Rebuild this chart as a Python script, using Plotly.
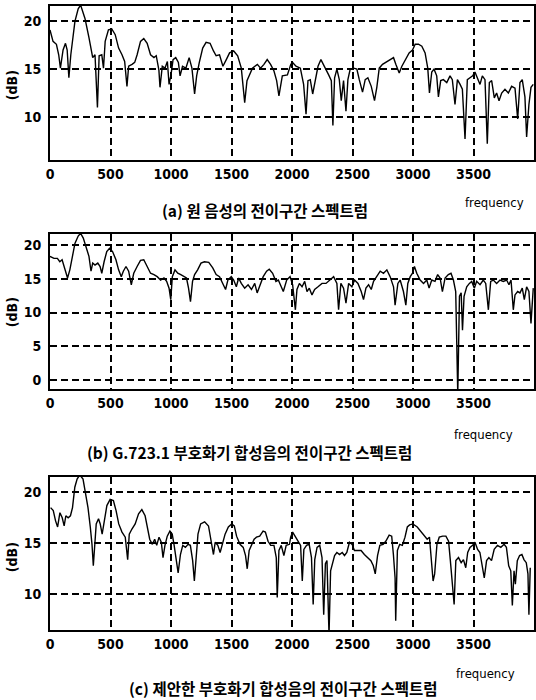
import plotly.graph_objects as go

# ---------------- data ----------------
freq_a = [0, 25, 53, 72, 86, 108, 128, 142, 156, 172, 206, 233, 253, 289, 322, 353, 372, 392, 406, 428,
          442, 456, 483, 511, 539, 567, 595, 617, 636, 650, 678, 700, 720, 748, 775, 803, 831, 859, 878, 900,
          909, 928, 950, 970, 984, 1000, 1017, 1039, 1061, 1075, 1095, 1123, 1150, 1173, 1195, 1212, 1234, 1262, 1290, 1323,
          1351, 1373, 1401, 1429, 1457, 1484, 1518, 1551, 1581, 1609, 1628, 1645, 1673, 1714, 1740, 1768, 1795, 1823, 1851, 1873,
          1892, 1920, 1962, 1990, 2005, 2033, 2069, 2096, 2116, 2132, 2151, 2171, 2193, 2215, 2239, 2270, 2303, 2325, 2338, 2352,
          2371, 2391, 2407, 2426, 2446, 2462, 2481, 2509, 2536, 2556, 2583, 2605, 2627, 2655, 2682, 2701, 2721, 2748, 2784, 2811,
          2839, 2858, 2886, 2908, 2941, 2968, 2996, 3018, 3045, 3073, 3100, 3122, 3136, 3155, 3174, 3196, 3210, 3229, 3251, 3279,
          3306, 3325, 3347, 3367, 3389, 3408, 3430, 3449, 3471, 3493, 3512, 3534, 3554, 3573, 3595, 3614, 3631, 3650, 3672, 3691,
          3711, 3733, 3760, 3788, 3815, 3843, 3865, 3884, 3903, 3925, 3939, 3958, 3975, 3994]
db_a = [19.1, 17.9, 17.6, 16.5, 15.1, 17.0, 17.7, 17.0, 14.1, 16.5, 20.0, 21.3, 21.7, 20.3, 18.3, 16.2, 16.5, 11.0, 16.4, 16.5,
        15.1, 17.9, 19.1, 19.2, 18.6, 17.2, 16.5, 15.8, 13.2, 15.3, 15.5, 15.7, 16.5, 17.9, 18.2, 17.7, 16.5, 16.2, 16.4, 14.9,
        13.1, 15.3, 15.1, 15.8, 13.4, 14.4, 16.0, 16.2, 15.7, 14.3, 15.3, 15.1, 16.2, 15.1, 12.4, 14.3, 15.7, 17.2, 17.8, 17.7,
        16.9, 16.4, 16.5, 15.3, 16.0, 16.7, 16.9, 16.4, 15.1, 11.5, 13.8, 14.3, 15.1, 15.5, 15.1, 15.5, 16.0, 15.5, 14.8, 13.8,
        12.2, 14.3, 14.4, 15.5, 15.7, 15.3, 15.1, 13.4, 10.3, 13.8, 13.9, 12.4, 13.8, 15.3, 16.0, 15.3, 14.4, 13.8, 9.1, 14.1,
        15.0, 13.9, 11.7, 13.8, 10.6, 13.9, 15.0, 15.1, 15.0, 13.9, 12.6, 13.9, 14.1, 13.2, 11.7, 13.1, 15.1, 15.5, 15.8, 16.0,
        16.2, 15.5, 14.6, 15.3, 16.0, 16.7, 17.0, 17.6, 17.6, 17.4, 16.7, 15.1, 12.5, 14.7, 15.0, 14.3, 12.1, 13.8, 13.9, 13.6,
        14.3, 13.9, 11.3, 13.9, 13.4, 12.9, 7.7, 13.9, 14.1, 14.3, 14.7, 13.9, 13.4, 14.3, 13.9, 7.2, 13.6, 13.8, 12.0, 12.5,
        11.7, 12.5, 12.9, 12.5, 13.2, 13.0, 9.8, 13.6, 13.9, 12.1, 7.9, 11.3, 13.1, 13.4]

freq_b = [0, 33, 61, 81, 100, 122, 145, 164, 183, 206, 233, 253, 275, 303, 322, 339, 353, 372, 395, 414,
          428, 447, 469, 492, 517, 545, 567, 589, 606, 628, 650, 672, 692, 720, 748, 775, 803, 831, 859, 886,
          914, 942, 964, 984, 998, 1011, 1033, 1056, 1081, 1109, 1128, 1145, 1161, 1178, 1195, 1220, 1248, 1276, 1312, 1345,
          1373, 1401, 1429, 1451, 1470, 1498, 1518, 1540, 1559, 1581, 1609, 1637, 1665, 1692, 1712, 1734, 1762, 1790, 1812, 1840,
          1867, 1887, 1906, 1928, 1956, 1984, 2005, 2028, 2041, 2061, 2083, 2105, 2124, 2143, 2165, 2187, 2215, 2248, 2281, 2316,
          2344, 2371, 2385, 2404, 2426, 2446, 2468, 2495, 2517, 2545, 2572, 2591, 2611, 2633, 2655, 2674, 2701, 2729, 2756, 2784,
          2811, 2839, 2852, 2875, 2894, 2921, 2941, 2957, 2977, 2996, 3012, 3031, 3059, 3087, 3114, 3133, 3155, 3182, 3204, 3224,
          3243, 3265, 3292, 3314, 3334, 3353, 3370, 3384, 3398, 3409, 3422, 3444, 3466, 3485, 3507, 3526, 3554, 3581, 3601, 3623,
          3642, 3664, 3691, 3719, 3746, 3774, 3793, 3810, 3829, 3843, 3865, 3884, 3903, 3920, 3939, 3958, 3975, 3994]
db_b = [18.3, 18.0, 18.0, 17.5, 17.8, 16.6, 15.1, 16.3, 18.3, 20.2, 21.3, 21.7, 21.0, 19.5, 18.3, 16.1, 17.3, 17.0, 17.3, 16.8,
        15.8, 17.5, 19.0, 19.5, 19.0, 17.8, 16.3, 15.3, 16.1, 16.8, 16.1, 14.1, 15.8, 16.8, 17.7, 17.8, 16.8, 15.8, 15.6, 15.3,
        14.8, 15.1, 14.6, 13.6, 11.9, 15.3, 16.3, 15.8, 15.6, 15.3, 15.1, 13.6, 11.6, 14.6, 15.6, 16.3, 17.3, 17.5, 17.4, 16.6,
        15.6, 15.3, 14.3, 13.4, 14.8, 15.3, 14.8, 13.8, 15.1, 14.3, 13.6, 14.1, 13.4, 14.3, 12.9, 14.1, 15.3, 16.1, 16.4, 15.8,
        14.6, 14.8, 14.1, 13.1, 14.8, 15.3, 14.1, 10.4, 13.4, 14.3, 13.8, 14.6, 13.1, 13.6, 12.6, 13.4, 13.8, 14.3, 14.3, 14.8,
        15.3, 14.3, 10.4, 14.3, 13.6, 11.4, 14.3, 13.8, 14.8, 14.3, 13.1, 11.9, 13.6, 14.1, 13.4, 14.6, 15.3, 16.1, 15.8, 16.3,
        15.3, 13.8, 11.1, 14.3, 14.8, 13.1, 11.1, 14.3, 15.3, 15.8, 16.8, 15.8, 14.8, 14.3, 14.8, 13.6, 14.8, 14.6, 15.6, 15.1,
        13.1, 15.1, 15.6, 15.8, 14.8, 13.1, -2.0, 12.4, 12.9, 7.4, 12.4, 13.8, 14.3, 14.6, 13.6, 14.6, 14.1, 14.8, 14.3, 10.4,
        14.6, 14.8, 14.3, 14.8, 14.6, 14.8, 14.1, 14.8, 10.4, 12.6, 13.1, 12.9, 13.6, 11.9, 13.8, 13.1, 8.4, 13.6]

freq_c = [5, 27, 46, 63, 82, 101, 117, 131, 150, 169, 186, 205, 224, 246, 273, 295, 314, 333, 347, 358,
          369, 382, 401, 415, 431, 450, 470, 497, 524, 546, 568, 595, 622, 642, 655, 677, 704, 732, 759, 786,
          805, 824, 846, 865, 882, 901, 920, 934, 950, 969, 991, 1010, 1026, 1043, 1059, 1078, 1097, 1119, 1141, 1160,
          1179, 1193, 1207, 1223, 1245, 1278, 1310, 1332, 1351, 1365, 1387, 1406, 1425, 1447, 1474, 1502, 1523, 1542, 1570, 1597,
          1616, 1630, 1646, 1665, 1687, 1706, 1733, 1761, 1780, 1802, 1824, 1851, 1870, 1878, 1892, 1911, 1933, 1952, 1979, 1989,
          2005, 2025, 2052, 2071, 2085, 2098, 2120, 2142, 2161, 2175, 2188, 2207, 2229, 2248, 2262, 2276, 2289, 2306, 2319, 2333,
          2352, 2371, 2393, 2415, 2434, 2453, 2475, 2497, 2516, 2543, 2571, 2598, 2625, 2652, 2672, 2688, 2707, 2726, 2753, 2775,
          2803, 2824, 2838, 2852, 2857, 2871, 2890, 2912, 2934, 2953, 2972, 2999, 3035, 3062, 3089, 3117, 3136, 3152, 3166, 3179,
          3198, 3217, 3245, 3272, 3294, 3308, 3321, 3340, 3354, 3376, 3398, 3417, 3436, 3452, 3471, 3493, 3512, 3534, 3553, 3572,
          3589, 3608, 3627, 3649, 3671, 3698, 3726, 3753, 3772, 3791, 3808, 3821, 3835, 3846, 3862, 3881, 3900, 3917, 3936, 3950,
          3958, 3969]
db_c = [18.5, 18.2, 17.2, 16.6, 18.0, 17.5, 16.7, 17.7, 17.5, 17.7, 18.5, 20.5, 21.3, 21.7, 21.3, 19.8, 18.5, 16.6, 14.9, 12.8,
        15.2, 16.9, 17.4, 16.9, 15.9, 17.5, 18.7, 19.3, 19.2, 18.2, 16.9, 16.1, 15.6, 13.4, 15.9, 16.4, 16.9, 17.9, 18.3, 17.7,
        16.6, 15.4, 14.9, 15.4, 14.8, 15.6, 15.1, 13.6, 14.8, 15.7, 16.2, 15.9, 14.8, 13.6, 12.1, 13.9, 14.8, 14.6, 14.9, 14.8,
        13.3, 11.3, 13.6, 15.9, 16.9, 17.1, 16.7, 15.2, 13.9, 15.1, 14.8, 14.1, 14.9, 15.9, 16.6, 16.9, 16.7, 15.7, 14.9, 14.6,
        13.8, 12.5, 14.3, 14.9, 15.4, 15.6, 15.7, 16.2, 16.1, 15.2, 14.8, 14.8, 13.6, 9.7, 14.3, 14.8, 13.8, 14.8, 14.9, 15.6,
        16.1, 15.7, 15.1, 14.8, 11.3, 14.4, 14.8, 14.9, 13.6, 9.0, 13.4, 14.6, 14.8, 13.6, 8.0, 13.0, 13.3, 6.0, 12.3, 13.0,
        13.8, 14.1, 13.9, 14.1, 13.8, 14.1, 15.1, 14.9, 14.3, 14.3, 14.3, 13.9, 13.6, 13.3, 12.8, 12.0, 13.8, 14.8, 14.9, 15.2,
        15.8, 15.7, 13.9, 11.6, 7.4, 14.3, 14.9, 14.8, 15.6, 16.6, 16.8, 16.9, 16.6, 16.2, 15.7, 15.4, 15.6, 13.3, 11.3, 12.0,
        14.9, 15.6, 15.7, 15.7, 15.2, 13.4, 11.3, 9.0, 13.3, 13.6, 13.1, 13.4, 12.6, 14.1, 14.6, 14.8, 15.1, 14.4, 14.1, 12.8,
        11.6, 13.3, 13.6, 13.3, 14.4, 14.8, 14.6, 14.9, 14.6, 12.8, 12.3, 8.9, 12.3, 11.0, 13.3, 13.8, 13.9, 13.4, 13.1, 12.0,
        8.0, 12.6]

x_ticks = [0, 500, 1000, 1500, 2000, 2500, 3000, 3500]
y_ticks_a = [10, 15, 20]
y_ticks_b = [0, 5, 10, 15, 20]
y_ticks_c = [10, 15, 20]
captions = ["(a) 원 음성의 전이구간 스펙트럼",
            "(b) G.723.1 부호화기 합성음의 전이구간 스펙트럼",
            "(c) 제안한 부호화기 합성음의 전이구간 스펙트럼"]
x_label = "frequency"
y_label = "(dB)"

# ---------------- figure ----------------
W, H = 536, 700
ML = 50
PW = W - ML

fig = go.Figure()
line_style = dict(color="black", width=1.4)
fig.add_trace(go.Scatter(x=freq_a, y=db_a, mode="lines", line=line_style, xaxis="x", yaxis="y", showlegend=False))
fig.add_trace(go.Scatter(x=freq_b, y=db_b, mode="lines", line=line_style, xaxis="x2", yaxis="y2", showlegend=False))
fig.add_trace(go.Scatter(x=freq_c, y=db_c, mode="lines", line=line_style, xaxis="x3", yaxis="y3", showlegend=False))

narrow = "DejaVu Sans Condensed, Liberation Sans Narrow, Arial Narrow, sans-serif"
tick_font = dict(family=narrow, size=14, color="black", weight="bold")


def ydom(top_px, bot_px):
    return [1 - bot_px / H, 1 - top_px / H]


common_x = dict(range=[0, 4000], tickvals=x_ticks, ticktext=[str(v) for v in x_ticks],
                showgrid=True, gridcolor="black", griddash="7px,4px", gridwidth=1.6,
                showline=True, linecolor="black", linewidth=2, mirror=True,
                ticks="", tickfont=tick_font, zeroline=False, domain=[0, 1])
common_y = dict(showgrid=True, gridcolor="black", griddash="7px,4px", gridwidth=1.6,
                showline=True, linecolor="black", linewidth=2, mirror=True,
                ticks="", tickfont=tick_font, zeroline=False, ticklabelstandoff=4)

fig.update_layout(
    width=W, height=H,
    margin=dict(l=ML, r=0, t=0, b=0),
    paper_bgcolor="white", plot_bgcolor="white",
    xaxis=dict(**common_x, anchor="y"),
    yaxis=dict(**common_y, range=[5.5, 21.6], tickvals=y_ticks_a, domain=ydom(6, 160), anchor="x"),
    xaxis2=dict(**common_x, anchor="y2"),
    yaxis2=dict(**common_y, range=[-1.3, 21.6], tickvals=y_ticks_b, domain=ydom(234, 389), anchor="x2"),
    xaxis3=dict(**common_x, anchor="y3"),
    yaxis3=dict(**common_y, range=[6.5, 21.5], tickvals=y_ticks_c, domain=ydom(477, 630), anchor="x3"),
)


def px_x(x):
    return (x - ML) / PW


def px_y(y):
    return 1 - y / H


cap_font = dict(family="Noto Sans CJK KR", size=15.5, color="black", weight="bold")
freq_font = dict(family=narrow, size=13, color="black")
db_font = dict(family=narrow, size=14, color="black", weight="bold")

caption_pos = [(266, 210), (250, 452), (284, 688)]
freq_pos = [(496, 202), (485, 434), (487, 673)]
db_pos = [(12, 85), (12, 312), (12, 557)]

for txt, (cx, cy) in zip(captions, caption_pos):
    fig.add_annotation(text=txt, x=px_x(cx), y=px_y(cy), xref="paper", yref="paper",
                       showarrow=False, font=cap_font, xanchor="center", yanchor="middle")
for (cx, cy) in freq_pos:
    fig.add_annotation(text=x_label, x=px_x(cx), y=px_y(cy), xref="paper", yref="paper",
                       showarrow=False, font=freq_font, xanchor="center", yanchor="middle")
for (cx, cy) in db_pos:
    fig.add_annotation(text=y_label, x=px_x(cx), y=px_y(cy), xref="paper", yref="paper",
                       showarrow=False, font=db_font, textangle=-90, xanchor="center", yanchor="middle")

fig.write_html("out.html",
               config={"displayModeBar": False},
               post_script="document.body.style.margin='0';document.body.style.padding='0';"
                           "document.body.style.overflow='hidden';")
